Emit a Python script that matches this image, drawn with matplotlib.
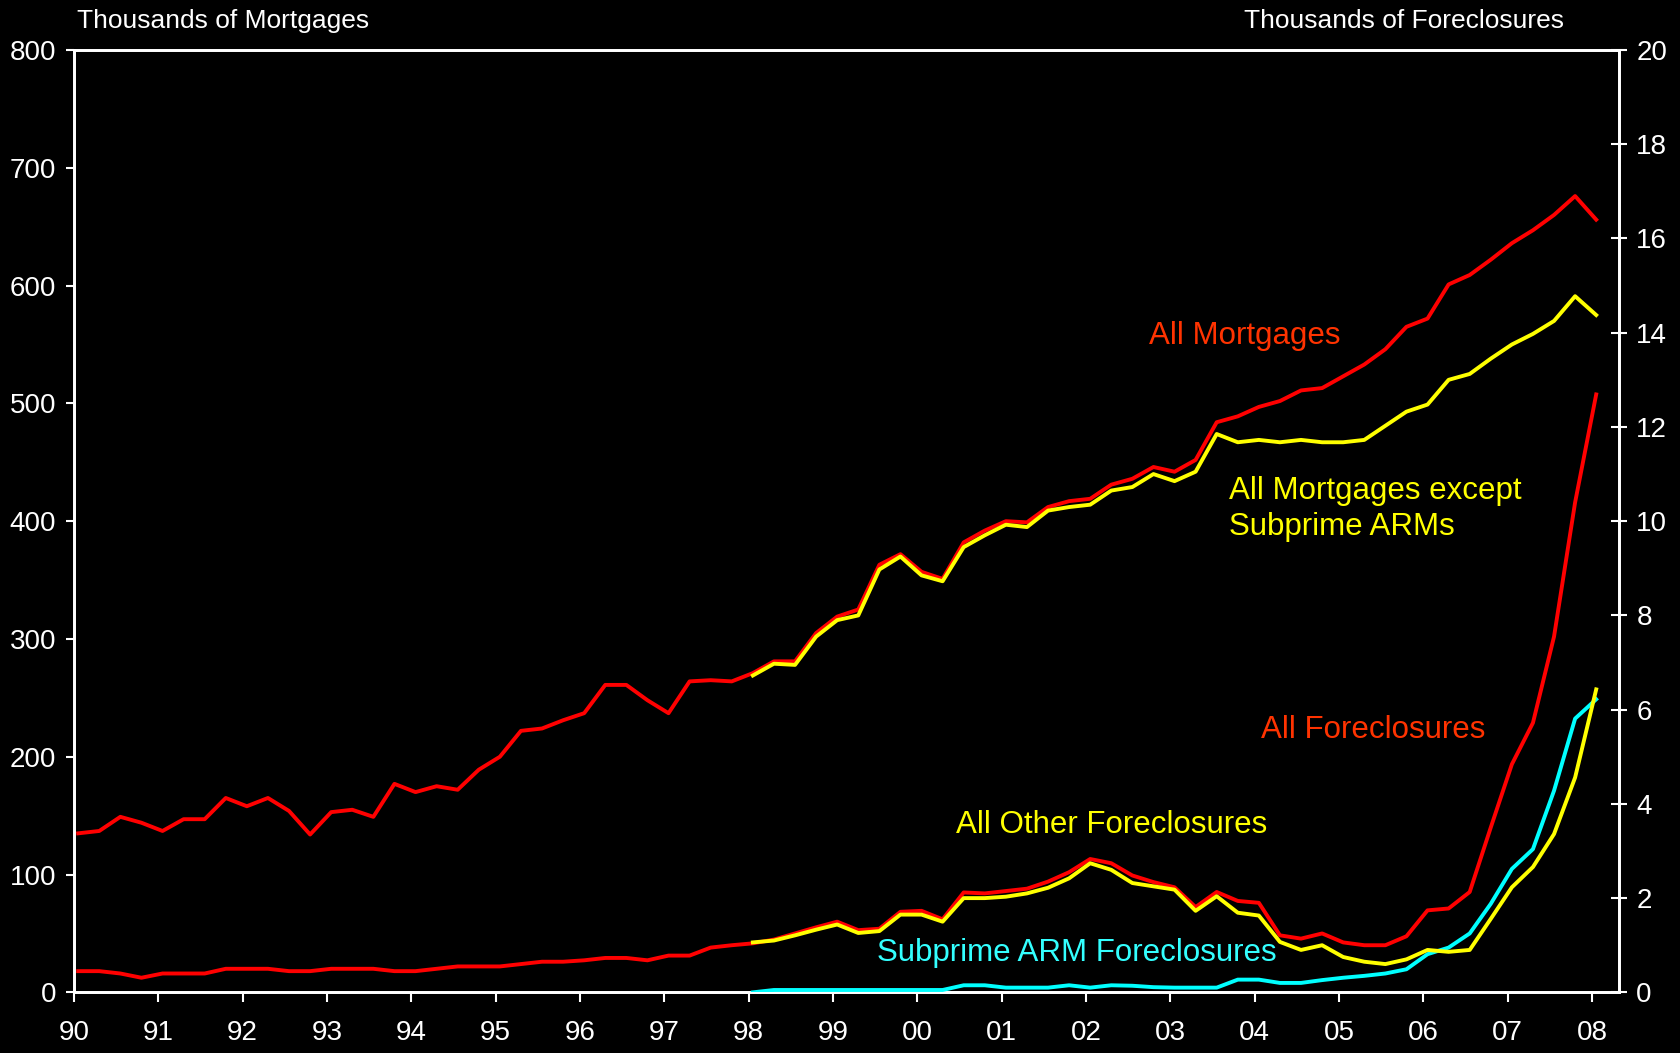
import numpy as np
import matplotlib
matplotlib.use("Agg")
import matplotlib.pyplot as plt

plt.rcParams['font.family'] = ['Liberation Sans', 'DejaVu Sans']

# quarterly data, 1990 Q1 .. 2008 Q1
all_mortgages = [
    135, 137, 149, 144,  137, 147, 147, 165,  158, 165, 154, 134,
    153, 155, 149, 177,  170, 175, 172, 189,  200, 222, 224, 231,
    237, 261, 261, 248,  237, 264, 265, 264,  271, 281, 281, 305,
    319, 325, 363, 372,  357, 351, 382, 392,  400, 399, 412, 417,
    419, 431, 436, 446,  442, 452, 484, 489,  497, 502, 511, 513,
    523, 533, 546, 565,  572, 601, 609, 622,  636, 647, 660, 676,
    656,
]
# from 1998 Q1
mortgages_ex_subprime_arm = [
    269, 279, 278, 302,  316, 320, 359, 370,  354, 349, 378, 388,
    397, 395, 409, 412,  414, 426, 429, 440,  434, 442, 474, 467,
    469, 467, 469, 467,  467, 469, 481, 493,  499, 520, 525, 538,
    550, 559, 570, 591,  575,
]
all_foreclosures = [
    0.45, 0.45, 0.40, 0.31,  0.40, 0.40, 0.40, 0.50,  0.50, 0.50, 0.45, 0.45,
    0.50, 0.50, 0.50, 0.45,  0.45, 0.50, 0.55, 0.55,  0.55, 0.60, 0.65, 0.65,
    0.68, 0.73, 0.73, 0.68,  0.78, 0.78, 0.95, 1.00,  1.04, 1.12, 1.25, 1.38,
    1.50, 1.32, 1.35, 1.71,  1.73, 1.55, 2.12, 2.10,  2.15, 2.20, 2.35, 2.55,
    2.83, 2.74, 2.48, 2.34,  2.23, 1.81, 2.13, 1.94,  1.90, 1.21, 1.14, 1.25,
    1.06, 1.00, 1.00, 1.19,  1.74, 1.78, 2.13, 3.50,  4.84, 5.72, 7.55, 10.4,
    12.69,
]
# from 1998 Q1
other_foreclosures = [
    1.06, 1.10, 1.21, 1.33,  1.44, 1.26, 1.30, 1.65,  1.65, 1.50, 2.00, 2.00,
    2.03, 2.10, 2.22, 2.42,  2.74, 2.60, 2.32, 2.25,  2.18, 1.73, 2.04, 1.69,
    1.63, 1.07, 0.90, 1.00,  0.75, 0.65, 0.60, 0.70,  0.90, 0.86, 0.90, 1.56,
    2.23, 2.66, 3.36, 4.56,  6.43,
]
subprime_arm_foreclosures = [
    0.00, 0.05, 0.05, 0.05,  0.05, 0.05, 0.05, 0.05,  0.05, 0.05, 0.15, 0.15,
    0.10, 0.10, 0.10, 0.15,  0.10, 0.15, 0.14, 0.11,  0.10, 0.10, 0.10, 0.27,
    0.27, 0.20, 0.20, 0.26,  0.31, 0.35, 0.40, 0.49,  0.81, 0.95, 1.25, 1.88,
    2.62, 3.04, 4.28, 5.81,  6.22,
]
years = list(range(1990, 2009))
year_labels = ["%02d" % (y % 100) for y in years]

t_all = 1990.05 + 0.25 * np.arange(len(all_mortgages))
t_98 = 1998.05 + 0.25 * np.arange(len(mortgages_ex_subprime_arm))

fig = plt.figure(figsize=(16.81, 10.53), dpi=100, facecolor='black')
ax = fig.add_axes([0.044, 0.0576, 0.9191, 0.8949], facecolor='black')
ax2 = ax.twinx()

lw = 2.8
ax.plot(t_all, all_mortgages, color='#ff0000', lw=lw, zorder=3)
ax.plot(t_98, mortgages_ex_subprime_arm, color='#ffff00', lw=lw, zorder=4)
ax2.plot(t_all, all_foreclosures, color='#ff0000', lw=lw, zorder=3)
ax2.plot(t_98, subprime_arm_foreclosures, color='#00ffff', lw=lw, zorder=4)
ax2.plot(t_98, other_foreclosures, color='#ffff00', lw=lw, zorder=5)

ax.set_xlim(1990, 2008.32)
ax.set_ylim(0, 800)
ax2.set_ylim(0, 20)
ax.set_xticks(years)
ax.set_xticklabels(year_labels)
ax.set_yticks(range(0, 801, 100))
ax2.set_yticks(range(0, 21, 2))

for a in (ax, ax2):
    for s in a.spines.values():
        s.set_color('white')
        s.set_linewidth(2)
ax.tick_params(axis='x', colors='white', labelsize=20, length=7, width=1.5, pad=13)
ax.tick_params(axis='y', colors='white', labelsize=20, length=6, width=1.5, pad=7)
ax2.tick_params(axis='y', colors='white', labelsize=20, length=11, width=1.5,
                direction='inout', pad=7)

fig.text(77 / 1681, 1 - 21 / 1053, "Thousands of Mortgages", color='white',
         fontsize=19, ha='left', va='center')
fig.text(1564 / 1681, 1 - 21 / 1053, "Thousands of Foreclosures", color='white',
         fontsize=19, ha='right', va='center')

lab = dict(fontsize=22.5, ha='left', va='center')
fig.text(1149 / 1681, 1 - 336 / 1053, "All Mortgages", color='#ff3300', **lab)
fig.text(1229 / 1681, 1 - 509 / 1053, "All Mortgages except\nSubprime ARMs",
         color='#ffff00', linespacing=1.25, **lab)
fig.text(1261 / 1681, 1 - 730 / 1053, "All Foreclosures", color='#ff3300', **lab)
fig.text(956 / 1681, 1 - 825 / 1053, "All Other Foreclosures", color='#ffff00', **lab)
fig.text(877 / 1681, 1 - 953 / 1053, "Subprime ARM Foreclosures", color='#33ffff', **lab)

fig.savefig("out.png", dpi=100, facecolor='black')
